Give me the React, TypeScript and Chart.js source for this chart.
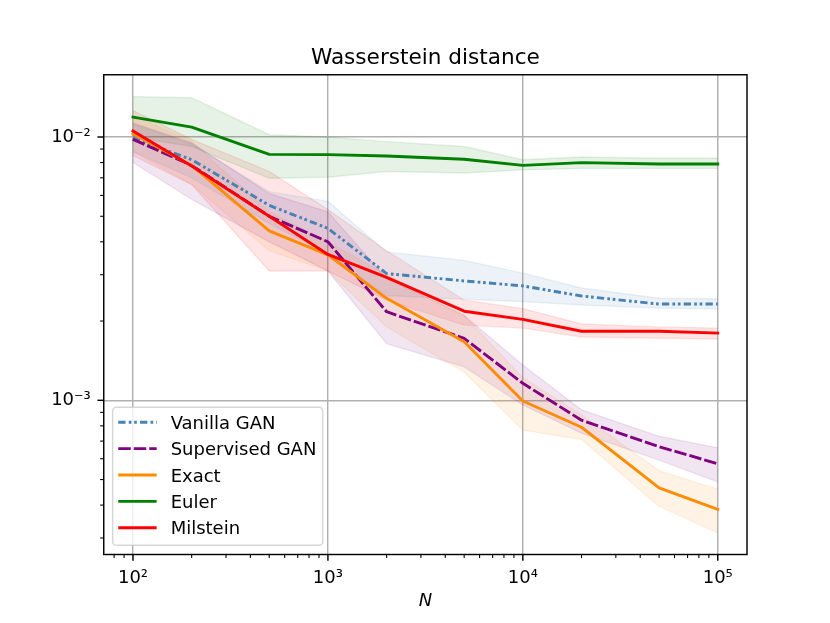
import React, { useEffect, useRef } from "react";
import { Chart, registerables } from "chart.js";
Chart.register(...registerables);

// ---------- data ----------
const N = [100, 200, 500, 1000, 2000, 5000, 10000, 20000, 50000, 100000];

const vanillaMean = [0.0099, 0.0082, 0.0055, 0.0045, 0.00303, 0.00284, 0.00272, 0.00249, 0.00232, 0.00232];
const vanillaLo = [0.0088, 0.007, 0.0047, 0.0036, 0.0025, 0.00242, 0.00237, 0.0023, 0.00224, 0.00222];
const vanillaHi = [0.0112, 0.0094, 0.0062, 0.0057, 0.00366, 0.0034, 0.00304, 0.00267, 0.00244, 0.00243];

const supervisedMean = [0.0098, 0.0078, 0.005, 0.004, 0.00217, 0.00172, 0.00116, 0.00084, 0.000667, 0.000574];
const supervisedLo = [0.008, 0.0058, 0.004, 0.0031, 0.00164, 0.00134, 0.00096, 0.00075, 0.000593, 0.00049];
const supervisedHi = [0.0113, 0.0095, 0.0061, 0.0052, 0.0029, 0.0021, 0.00136, 0.00092, 0.00073, 0.00066];

const exactMean = [0.0103, 0.0078, 0.0044, 0.00357, 0.00244, 0.00167, 0.000994, 0.00079, 0.000465, 0.000385];
const exactLo = [0.0088, 0.0066, 0.0037, 0.0031, 0.0019, 0.00128, 0.00077, 0.00071, 0.000395, 0.000314];
const exactHi = [0.0121, 0.0096, 0.0052, 0.004, 0.003, 0.0021, 0.00122, 0.00088, 0.00054, 0.00046];

const eulerMean = [0.0119, 0.0109, 0.00859, 0.00857, 0.00847, 0.00823, 0.0078, 0.00799, 0.0079, 0.0079];
const eulerLo = [0.01, 0.0092, 0.00697, 0.00703, 0.0074, 0.0073, 0.0075, 0.0076, 0.0076, 0.0076];
const eulerHi = [0.01424, 0.0141, 0.0102, 0.01, 0.0096, 0.0092, 0.0082, 0.0084, 0.0083, 0.0083];

const milsteinMean = [0.01054, 0.00776, 0.005, 0.00358, 0.00293, 0.00218, 0.00203, 0.00183, 0.00183, 0.0018];
const milsteinLo = [0.0085, 0.0066, 0.0031, 0.0031, 0.0024, 0.00193, 0.00188, 0.00174, 0.00172, 0.00171];
const milsteinHi = [0.0126, 0.0098, 0.0074, 0.0053, 0.0037, 0.0024, 0.00223, 0.00195, 0.0019, 0.00188];

const seriesLabels = ["Vanilla GAN", "Supervised GAN", "Exact", "Euler", "Milstein"];

const TITLE = "Wasserstein distance";
const X_LABEL = "N";

// axis limits (log10)
const X_MIN = Math.pow(10, 1.85);
const X_MAX = Math.pow(10, 5.15);
const Y_MIN = Math.pow(10, -3.5856);
const Y_MAX = Math.pow(10, -1.7636);

// ---------- helpers ----------
const FONT = '"DejaVu Sans", "Liberation Sans", sans-serif';
const LINE_W = 2.9;
const SUP: Record<string, string> = {
  "-": "\u207B", "0": "\u2070", "1": "\u00B9", "2": "\u00B2", "3": "\u00B3",
  "4": "\u2074", "5": "\u2075", "6": "\u2076", "7": "\u2077", "8": "\u2078", "9": "\u2079",
};
function isPow10(v: number) {
  const e = Math.round(Math.log10(v));
  return Math.abs(v - Math.pow(10, e)) / Math.pow(10, e) < 1e-6;
}
function pow10Label(v: number) {
  if (!isPow10(v)) return "";
  const e = Math.round(Math.log10(v));
  return "10" + String(e).split("").map((c) => SUP[c]).join("");
}
function logTicks(min: number, max: number) {
  const out: number[] = [];
  const e0 = Math.floor(Math.log10(min));
  const e1 = Math.ceil(Math.log10(max));
  for (let e = e0; e <= e1; e++) {
    for (let m = 1; m <= 9; m++) {
      const v = m * Math.pow(10, e);
      if (v >= min * (1 - 1e-9) && v <= max * (1 + 1e-9)) out.push(v);
    }
  }
  return out;
}
const X_TICKS = logTicks(X_MIN, X_MAX);
const Y_TICKS = logTicks(Y_MIN, Y_MAX);

function pts(arr: number[]) {
  return N.map((x, i) => ({ x, y: arr[i] }));
}
function rgba(hex: string, a: number) {
  const n = parseInt(hex.slice(1), 16);
  return `rgba(${(n >> 16) & 255},${(n >> 8) & 255},${n & 255},${a})`;
}

const SERIES = [
  { label: seriesLabels[0], color: "#4682b4", dash: [7.3, 3.2, 2.7, 2.7, 2.7, 3.2], mean: vanillaMean, lo: vanillaLo, hi: vanillaHi },
  { label: seriesLabels[1], color: "#800080", dash: [12.5, 3], mean: supervisedMean, lo: supervisedLo, hi: supervisedHi },
  { label: seriesLabels[2], color: "#ff8c00", dash: [], mean: exactMean, lo: exactLo, hi: exactHi },
  { label: seriesLabels[3], color: "#008000", dash: [], mean: eulerMean, lo: eulerLo, hi: eulerHi },
  { label: seriesLabels[4], color: "#ff0000", dash: [], mean: milsteinMean, lo: milsteinLo, hi: milsteinHi },
];

function buildDatasets() {
  const ds: any[] = [];
  SERIES.forEach((s, k) => {
    ds.push({
      label: "",
      data: pts(s.lo),
      borderColor: rgba(s.color, 0.1),
      borderWidth: 1.4,
      backgroundColor: rgba(s.color, 0.1),
      pointRadius: 0,
      fill: false,
      order: 20 + k,
    });
    ds.push({
      label: "",
      data: pts(s.hi),
      borderColor: rgba(s.color, 0.1),
      borderWidth: 1.4,
      backgroundColor: rgba(s.color, 0.1),
      pointRadius: 0,
      fill: "-1",
      order: 20 + k,
    });
    ds.push({
      label: s.label,
      isMain: true,
      data: pts(s.mean),
      borderColor: s.color,
      backgroundColor: s.color,
      borderWidth: LINE_W,
      borderDash: s.dash,
      borderCapStyle: s.dash.length ? "butt" : "square",
      borderJoinStyle: "round",
      pointRadius: 0,
      fill: false,
      tension: 0,
      order: 5 - k,
    });
  });
  return ds;
}

const decorPlugin = {
  id: "decor",
  afterDraw(chart: any) {
    const { ctx, chartArea: a, scales } = chart;
    const xs = scales.x;
    const ys = scales.y;
    ctx.save();
    ctx.strokeStyle = "#000";
    // tick marks
    for (const v of X_TICKS) {
      const major = isPow10(v);
      const px = xs.getPixelForValue(v);
      ctx.lineWidth = major ? 1.44 : 1.08;
      ctx.beginPath();
      ctx.moveTo(px, a.bottom);
      ctx.lineTo(px, a.bottom + (major ? 6.3 : 3.6));
      ctx.stroke();
    }
    for (const v of Y_TICKS) {
      const major = isPow10(v);
      const py = ys.getPixelForValue(v);
      ctx.lineWidth = major ? 1.44 : 1.08;
      ctx.beginPath();
      ctx.moveTo(a.left, py);
      ctx.lineTo(a.left - (major ? 6.3 : 3.6), py);
      ctx.stroke();
    }
    // frame
    ctx.lineWidth = 1.44;
    ctx.strokeRect(a.left, a.top, a.right - a.left, a.bottom - a.top);

    // title
    const cx = (a.left + a.right) / 2;
    ctx.fillStyle = "#000";
    ctx.textAlign = "center";
    ctx.textBaseline = "alphabetic";
    ctx.font = `21.6px ${FONT}`;
    ctx.fillText(TITLE, cx, a.top - 10.5);
    // x label
    ctx.font = `italic 18px ${FONT}`;
    ctx.fillText(X_LABEL, cx, 606);

    // legend
    const lx0 = a.left + 8.9;
    const lx1 = lx0 + 210;
    const ly0 = 407.3;
    const ly1 = 545.3;
    const r = 3.6;
    ctx.beginPath();
    ctx.moveTo(lx0 + r, ly0);
    ctx.lineTo(lx1 - r, ly0);
    ctx.arcTo(lx1, ly0, lx1, ly0 + r, r);
    ctx.lineTo(lx1, ly1 - r);
    ctx.arcTo(lx1, ly1, lx1 - r, ly1, r);
    ctx.lineTo(lx0 + r, ly1);
    ctx.arcTo(lx0, ly1, lx0, ly1 - r, r);
    ctx.lineTo(lx0, ly0 + r);
    ctx.arcTo(lx0, ly0, lx0 + r, ly0, r);
    ctx.closePath();
    ctx.fillStyle = "rgba(255,255,255,0.8)";
    ctx.fill();
    ctx.strokeStyle = "rgba(204,204,204,0.8)";
    ctx.lineWidth = 1.44;
    ctx.stroke();

    const mains = chart.data.datasets.filter((d: any) => d.isMain);
    mains.forEach((d: any, i: number) => {
      const yy = 422.3 + i * 26.35;
      ctx.save();
      ctx.strokeStyle = d.borderColor;
      ctx.lineWidth = LINE_W;
      ctx.setLineDash(d.borderDash || []);
      ctx.lineCap = "butt";
      ctx.beginPath();
      ctx.moveTo(lx0 + 5.6, yy);
      ctx.lineTo(lx0 + 44, yy);
      ctx.stroke();
      ctx.restore();
      ctx.fillStyle = "#000";
      ctx.textAlign = "left";
      ctx.textBaseline = "alphabetic";
      ctx.font = `18px ${FONT}`;
      ctx.fillText(d.label, lx0 + 58, yy + 6.5);
    });
    ctx.restore();
  },
};

export default function App() {
  const ref = useRef<HTMLCanvasElement | null>(null);
  useEffect(() => {
    if (!ref.current) return;
    const gridColor = (c: any) =>
      c.tick && isPow10(c.tick.value) ? "#b0b0b0" : "rgba(0,0,0,0)";
    const chart = new Chart(ref.current, {
      type: "line",
      data: { datasets: buildDatasets() },
      options: {
        animation: false,
        responsive: false,
        maintainAspectRatio: false,
        layout: { padding: { left: 0, right: 83, top: 74.76, bottom: 0 } },
        plugins: {
          legend: { display: false },
          tooltip: { enabled: false },
          title: { display: false },
        },
        elements: { line: { tension: 0 } },
        scales: {
          x: {
            type: "logarithmic",
            min: X_MIN,
            max: X_MAX,
            bounds: "data",
            afterBuildTicks: (s: any) => {
              s.ticks = X_TICKS.map((v) => ({ value: v }));
            },
            afterFit: (s: any) => {
              s.height = 68.5;
            },
            grid: { color: gridColor, lineWidth: 1.44, drawTicks: false },
            border: { display: false },
            ticks: {
              autoSkip: false,
              maxRotation: 0,
              minRotation: 0,
              padding: 13,
              color: "#000",
              font: { family: FONT, size: 18 },
              callback: (v: any) => pow10Label(Number(v)),
            },
          },
          y: {
            type: "logarithmic",
            min: Y_MIN,
            max: Y_MAX,
            bounds: "data",
            afterBuildTicks: (s: any) => {
              s.ticks = Y_TICKS.map((v) => ({ value: v }));
            },
            afterFit: (s: any) => {
              s.width = 103.75;
            },
            grid: { color: gridColor, lineWidth: 1.44, drawTicks: false },
            border: { display: false },
            ticks: {
              autoSkip: false,
              padding: 13,
              color: "#000",
              font: { family: FONT, size: 18 },
              callback: (v: any) => pow10Label(Number(v)),
            },
          },
        },
      },
      plugins: [decorPlugin],
    } as any);
    return () => chart.destroy();
  }, []);
  return (
    <div style={{ position: "absolute", left: 0, top: 0, width: 830, height: 623, background: "#fff" }}>
      <canvas ref={ref} width={830} height={623} style={{ width: 830, height: 623, display: "block" }} />
    </div>
  );
}
